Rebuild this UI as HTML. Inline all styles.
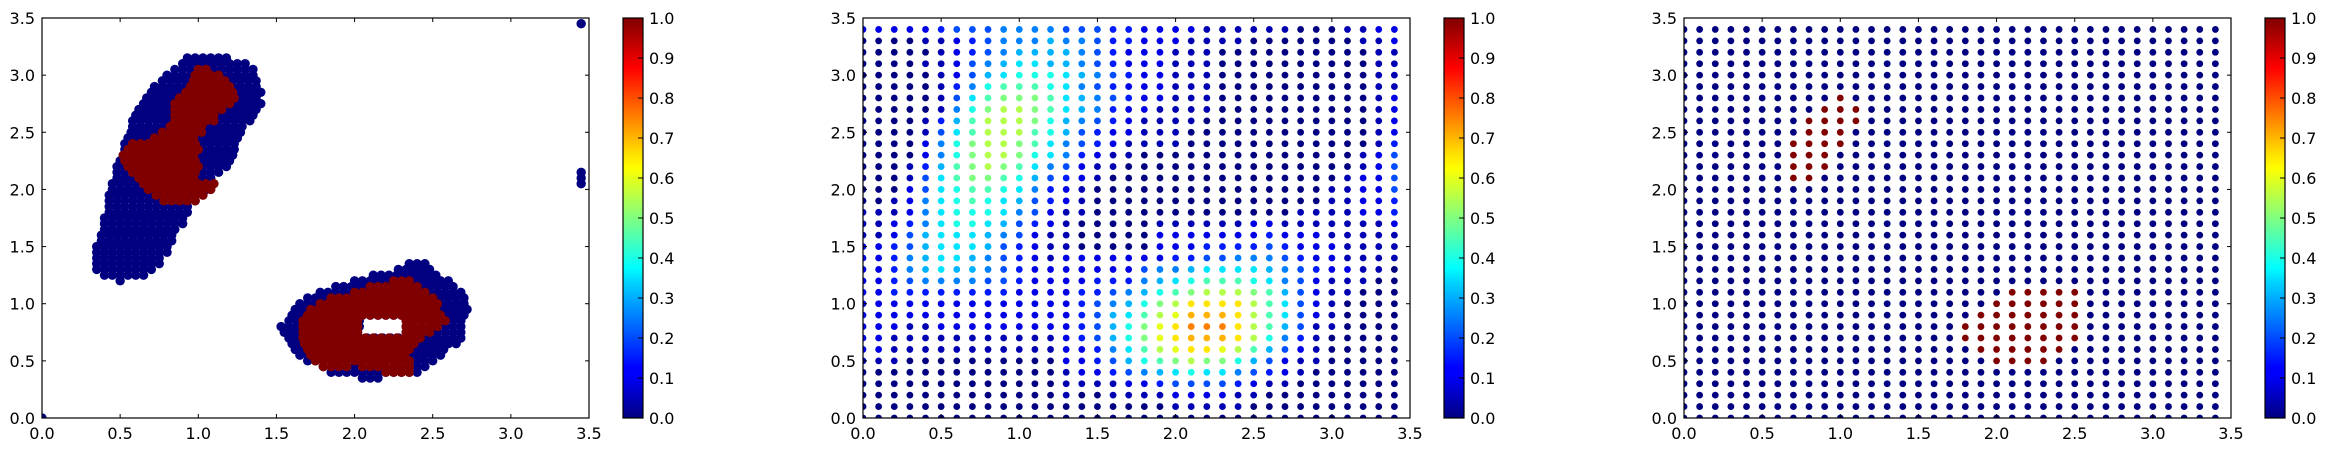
<!DOCTYPE html>
<html><head><meta charset="utf-8"><style>
html,body{margin:0;padding:0;background:#fff;}
svg{display:block;}
text{font-family:"DejaVu Sans","Liberation Sans",sans-serif;font-size:16px;fill:#000;}
</style></head><body>
<svg id="fig" width="2326" height="452" viewBox="0 0 2326 452" xmlns="http://www.w3.org/2000/svg">
<defs>
<clipPath id="clip0"><rect x="42" y="18" width="547" height="400"/></clipPath>
<clipPath id="clip1"><rect x="863" y="18" width="547" height="400"/></clipPath>
<clipPath id="clip2"><rect x="1684" y="18" width="547" height="400"/></clipPath>
<linearGradient id="jet" x1="0" y1="1" x2="0" y2="0">
<stop offset="0" stop-color="#000080"/><stop offset="0.11" stop-color="#0000ff"/><stop offset="0.125" stop-color="#0000ff"/>
<stop offset="0.34" stop-color="#00d4ff"/><stop offset="0.375" stop-color="#00ffff"/><stop offset="0.5" stop-color="#80ff80"/>
<stop offset="0.625" stop-color="#ffff00"/><stop offset="0.66" stop-color="#ffe000"/><stop offset="0.875" stop-color="#ff0000"/><stop offset="1" stop-color="#800000"/>
</linearGradient>
</defs>
</svg>
<script>
// ---------- data ----------
const axisTicks = [0, 0.5, 1, 1.5, 2, 2.5, 3, 3.5];
const axisTickLabels = ["0.0","0.5","1.0","1.5","2.0","2.5","3.0","3.5"];
const cbTicks = [0,0.1,0.2,0.3,0.4,0.5,0.6,0.7,0.8,0.9,1.0];
const cbTickLabels = ["0.0","0.1","0.2","0.3","0.4","0.5","0.6","0.7","0.8","0.9","1.0"];

// panel 1: scatter rows [y, xStart, xEnd], points every 0.05
const p1NavyRows = [
[1.20,0.50,0.50],[1.25,0.40,0.65],[1.30,0.35,0.72],[1.35,0.35,0.75],[1.40,0.35,0.78],[1.45,0.35,0.80],
[1.50,0.35,0.82],[1.55,0.38,0.85],[1.60,0.38,0.87],[1.65,0.40,0.88],[1.70,0.40,0.90],[1.75,0.40,0.92],
[1.80,0.43,0.95],[1.85,0.43,0.97],[1.90,0.43,1.00],[1.95,0.43,1.02],[2.00,0.45,1.05],[2.05,0.45,1.08],
[2.10,0.48,1.12],[2.15,0.48,1.15],[2.20,0.48,1.18],[2.25,0.50,1.20],[2.30,0.52,1.22],[2.35,0.53,1.25],
[2.40,0.53,1.27],[2.45,0.55,1.28],[2.50,0.57,1.30],[2.55,0.58,1.32],[2.60,0.58,1.35],[2.65,0.60,1.37],
[2.70,0.62,1.38],[2.75,0.65,1.40],[2.80,0.67,1.40],[2.85,0.70,1.40],[2.90,0.72,1.40],[2.95,0.77,1.40],
[3.00,0.80,1.38],[3.05,0.85,1.35],[3.10,0.90,1.30],[3.15,0.93,1.20],
[0.35,2.05,2.15],[0.40,1.85,2.40],[0.45,1.80,2.45],[0.50,1.70,2.50],[0.55,1.65,2.55],[0.60,1.62,2.60],
[0.65,1.60,2.65],[0.70,1.58,2.68],[0.75,1.55,2.04],[0.75,2.33,2.70],[0.80,1.53,2.04],[0.80,2.33,2.72],
[0.85,1.58,2.04],[0.85,2.33,2.72],[0.90,1.60,2.72],[0.95,1.62,2.72],[1.00,1.65,2.72],[1.05,1.70,2.70],
[1.10,1.78,2.68],[1.15,1.88,2.65],[1.20,2.00,2.60],[1.25,2.12,2.55],[1.30,2.28,2.50],[1.35,2.35,2.45],
[0.00,0.00,0.00],[3.45,3.45,3.45],[2.05,3.45,3.45],[2.10,3.45,3.45],[2.15,3.45,3.45]
];
const p1RedRows = [
[1.90,0.78,0.98],[1.95,0.73,1.05],[2.00,0.68,1.08],[2.05,0.65,1.10],[2.10,0.62,0.98],[2.15,0.58,1.00],
[2.20,0.55,1.00],[2.25,0.53,1.00],[2.30,0.52,1.00],[2.35,0.55,1.02],[2.40,0.58,1.02],[2.45,0.72,1.00],
[2.50,0.77,1.02],[2.55,0.82,1.05],[2.60,0.85,1.10],[2.65,0.85,1.12],[2.70,0.85,1.18],[2.75,0.85,1.22],
[2.80,0.88,1.25],[2.85,0.92,1.22],[2.90,0.95,1.20],[2.95,0.97,1.18],[3.00,0.98,1.15],[3.05,1.00,1.08],
[0.40,2.20,2.35],[0.45,1.80,1.95],[0.45,2.05,2.35],[0.50,1.75,2.35],[0.55,1.72,2.35],[0.60,1.70,2.35],
[0.65,1.68,2.40],[0.70,1.67,2.45],[0.75,1.67,2.04],[0.75,2.33,2.52],[0.80,1.67,2.04],[0.80,2.33,2.55],
[0.85,1.67,2.04],[0.85,2.33,2.58],[0.90,1.70,2.58],[0.95,1.72,2.55],[1.00,1.78,2.55],[1.05,1.85,2.52],
[1.10,2.00,2.48],[1.15,2.10,2.40],[1.20,2.25,2.38]
];

// panel 2: 35x35 grid (x,y = 0.0..3.4 step 0.1); rows listed top (y=3.4) to bottom (y=0.0)
// each char is a hex digit h, value = h/20
const p2Rows = [
"2222234445555444332"+"2221111110001122",
"0000112345556554332"+"2211110000000112",
"0000012345666654322"+"2111000000000011",
"0000112456776654322"+"2111000000000011",
"0000012467888765432"+"2111000000000011",
"0000013589998754322"+"2111000000000011",
"000001479aaa9765432"+"2111000000000012",
"00000158abba9765322"+"1111000000000012",
"00001369bbba8654321"+"1110000000000012",
"00001479bbb98643221"+"1100000000000012",
"0000258abba97543211"+"1100000000000013",
"0000258abba87532110"+"0000000000000124",
"0001369aba975421100"+"0000000000000124",
"0001479aa9864321000"+"0000000000001224",
"0002478998753210000"+"0000000000011224",
"0012578987643210000"+"0000000000011223",
"1112578887542110000"+"0000000001111223",
"1123578876432100000"+"1111112211111112",
"1124677765421100000"+"2222222322211111",
"2234677764321100000"+"2223333432221111",
"2235677654321222222"+"2334455543221111",
"2235676654322222224"+"5567777654322110",
"2234555544322223335"+"6789998754211100",
"2233333333222233456"+"89abbba964211000",
"2222222222222234568"+"abddddb974210000",
"2222222222222234679"+"bceeedb974210000",
"222112222222223468a"+"cdfffdb964110000",
"221111111111123468a"+"cdeeedb853100000",
"2211111111111223579"+"bcddcb9642100000",
"1110000000000223468"+"9abaa86421100000",
"0000000000000122345"+"6787754321000000",
"0000000000000111122"+"3444432110000000",
"0000000000000100111"+"1222211000000000",
"0000000000000000000"+"0111110000000000",
"0000000000000000000"+"0000000000000000"
];

// panel 3: grid all class 0 except these class-1 points [y, x]
const p3RedY = [2.8,2.7,2.7,2.7,2.6,2.6,2.6,2.6,2.5,2.5,2.5,2.4,2.4,2.4,2.4,2.3,2.3,2.3,2.2,2.2,2.2,2.1,2.1,
 1.1,1.1,1.1,1.1,1.1, 1.0,1.0,1.0,1.0,1.0,1.0, 0.9,0.9,0.9,0.9,0.9,0.9,0.9, 0.8,0.8,0.8,0.8,0.8,0.8,0.8,0.8,
 0.7,0.7,0.7,0.7,0.7,0.7,0.7,0.7, 0.6,0.6,0.6,0.6,0.6,0.6, 0.5,0.5,0.5,0.5];
const p3RedX = [1.0,0.9,1.0,1.1,0.8,0.9,1.0,1.1,0.8,0.9,1.0,0.7,0.8,0.9,1.0,0.7,0.8,0.9,0.7,0.8,0.9,0.7,0.8,
 2.1,2.2,2.3,2.4,2.5, 2.0,2.1,2.2,2.3,2.4,2.5, 1.9,2.0,2.1,2.2,2.3,2.4,2.5, 1.8,1.9,2.0,2.1,2.2,2.3,2.4,2.5,
 1.8,1.9,2.0,2.1,2.2,2.3,2.4,2.5, 1.9,2.0,2.1,2.2,2.3,2.4, 2.0,2.1,2.2,2.3];

// ---------- helpers ----------
const NS = "http://www.w3.org/2000/svg";
const svg = document.getElementById("fig");
const X0 = [42, 863, 1684], PW = 547, TOP = 18, BOT = 418, PH = 400, XMAX = 3.5, YMAX = 3.5;
function sx(p, v) { return X0[p] + v / XMAX * PW; }
function sy(v) { return BOT - v / YMAX * PH; }
function mk(tag, attrs, parent) {
  const e = document.createElementNS(NS, tag);
  for (const k in attrs) e.setAttribute(k, attrs[k]);
  (parent || svg).appendChild(e);
  return e;
}
function cl(x) { return Math.max(0, Math.min(1, x)); }
function jet(v) {
  const r = cl(1.5 - Math.abs(4 * v - 3)), g = cl(1.5 - Math.abs(4 * v - 2)), b = cl(1.5 - Math.abs(4 * v - 1));
  return "rgb(" + Math.round(r * 255) + "," + Math.round(g * 255) + "," + Math.round(b * 255) + ")";
}

// ---------- panels ----------
for (let p = 0; p < 3; p++) {
  const g = mk("g", {});
  
  
  const marks = mk("g", { "clip-path": "url(#clip" + p + ")" }, g);
  
  

  if (p === 0) {
    const drawRows = (rows, val) => {
      rows.forEach(r => {
        for (let x = r[1]; x <= r[2] + 1e-6; x += 0.05) {
          const c = mk("circle", { cx: sx(0, x), cy: sy(r[0]), r: 4.7, fill: jet(val) }, marks);
          
          
        }
      });
    };
    drawRows(p1NavyRows, 0);
    drawRows(p1RedRows, 1);
  } else if (p === 1) {
    p2Rows.forEach((row, ri) => {
      const y = (34 - ri) / 10;
      for (let ci = 0; ci < 35; ci++) {
        const ch = row[ci] || "0";
        const v = parseInt(ch, 16) / 20;
        const c = mk("circle", { cx: sx(1, ci / 10), cy: sy(y), r: 3.4, fill: jet(v) }, marks);
        
        
      }
    });
  } else {
    const red = new Set(p3RedY.map((y, i) => Math.round(y * 10) + "," + Math.round(p3RedX[i] * 10)));
    for (let yi = 0; yi < 35; yi++) for (let xi = 0; xi < 35; xi++) {
      const v = red.has(yi + "," + xi) ? 1 : 0;
      const c = mk("circle", { cx: sx(2, xi / 10), cy: sy(yi / 10), r: 3.4, fill: jet(v) }, marks);
      
      
    }
  }

  // frame
  const fr = mk("rect", { x: X0[p], y: TOP, width: PW, height: PH, fill: "none", stroke: "#000", "stroke-width": 1.2 }, g);
  
  
  // ticks & labels
  axisTicks.forEach((t, i) => {
    const x = sx(p, t), y = sy(t);
    mk("line", { x1: x, y1: BOT, x2: x, y2: BOT - 4, stroke: "#000" }, g);
    mk("line", { x1: x, y1: TOP, x2: x, y2: TOP + 4, stroke: "#000" }, g);
    mk("line", { x1: X0[p], y1: y, x2: X0[p] + 4, y2: y, stroke: "#000" }, g);
    mk("line", { x1: X0[p] + PW, y1: y, x2: X0[p] + PW - 4, y2: y, stroke: "#000" }, g);
    const xl = mk("text", { x: x, y: 439, "text-anchor": "middle" }, g);
    xl.textContent = axisTickLabels[i];
    
    
    const yl = mk("text", { x: X0[p] - 7, y: y + 6, "text-anchor": "end" }, g);
    yl.textContent = axisTickLabels[i];
    
    
  });

  // colorbar
  const cbx = X0[p] + PW + 34;
  const cb = mk("g", {}, g);
  
  
  mk("rect", { x: cbx, y: TOP, width: 20, height: PH, fill: "url(#jet)", stroke: "#000", "stroke-width": 1.2 }, cb);
  cbTicks.forEach((t, i) => {
    const y = BOT - t * PH;
    mk("line", { x1: cbx + 20, y1: y, x2: cbx + 15, y2: y, stroke: "#000" }, cb);
    const tl = mk("text", { x: cbx + 26, y: y + 6 }, cb);
    tl.textContent = cbTickLabels[i];
    
    
  });
}
</script>
</body></html>
